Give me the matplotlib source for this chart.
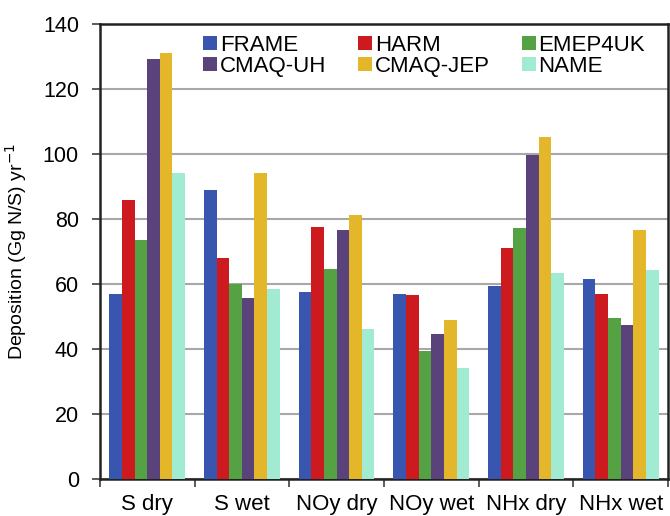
import numpy as np
import matplotlib.pyplot as plt

plt.rcParams['font.family'] = ['Liberation Sans', 'DejaVu Sans']

# Data
categories = ['S dry', 'S wet', 'NOy dry', 'NOy wet', 'NHx dry', 'NHx wet']
models = ['FRAME', 'HARM', 'EMEP4UK', 'CMAQ-UH', 'CMAQ-JEP', 'NAME']
frame = [56.9, 88.8, 57.3, 56.8, 59.3, 61.5]
harm = [85.8, 68.0, 77.4, 56.4, 70.9, 56.9]
emep4uk = [73.4, 60.0, 64.5, 39.2, 77.0, 49.4]
cmaq_uh = [129.1, 55.7, 76.4, 44.6, 99.5, 47.3]
cmaq_jep = [131.1, 94.0, 81.0, 48.8, 105.0, 76.4]
name = [94.0, 58.3, 45.9, 34.1, 63.4, 64.1]
series = [frame, harm, emep4uk, cmaq_uh, cmaq_jep, name]
colors = ['#3856B0', '#CC1A1E', '#55A245', '#5A437B', '#E4B72A', '#A2EBD3']

fig = plt.figure(figsize=(6.7, 5.16), dpi=100)
ax = fig.add_axes([0.149, 0.0723, 0.848, 0.882])

x = np.arange(len(categories))
n = len(series)
width = 0.8 / n
bars = []
for i, (vals, c) in enumerate(zip(series, colors)):
    b = ax.bar(x - 0.4 + width * (i + 0.5), vals, width, color=c,
               edgecolor='none', zorder=3)
    bars.append(b)

ax.set_xlim(-0.5, len(categories) - 0.5)
ax.set_ylim(0, 140)
ax.set_yticks(np.arange(0, 141, 20))
ax.yaxis.grid(True, color='#A8A8A8', linewidth=1.5, zorder=0)
ax.set_axisbelow(True)

ax.set_xticks(x)
ax.set_xticklabels(categories)
ax.set_xticks(np.arange(-0.5, len(categories)), minor=True)
ax.tick_params(axis='x', which='major', length=0, pad=11, labelsize=16)
ax.tick_params(axis='x', which='minor', length=6, width=1.2, color='#404040')
ax.tick_params(axis='y', length=6, width=1.2, color='#404040', labelsize=15.5, pad=9)

for s in ax.spines.values():
    s.set_color('#222222')
    s.set_linewidth(1.8)

ax.set_ylabel('Deposition (Gg N/S) yr$^{-1}$', fontsize=14)
ax.yaxis.set_label_coords(-0.125, 0.5)

# legend: FRAME/CMAQ-UH, HARM/CMAQ-JEP, EMEP4UK/NAME in columns
order = [0, 3, 1, 4, 2, 5]
ax.legend([bars[i] for i in order], [models[i] for i in order], ncol=3,
          loc='upper left', bbox_to_anchor=(0.155, 1.01), frameon=False,
          fontsize=16, handlelength=0.62, handleheight=0.62,
          handletextpad=0.12, labelspacing=0.0, columnspacing=1.45,
          borderaxespad=0.3)

fig.savefig('out.png', dpi=100)
